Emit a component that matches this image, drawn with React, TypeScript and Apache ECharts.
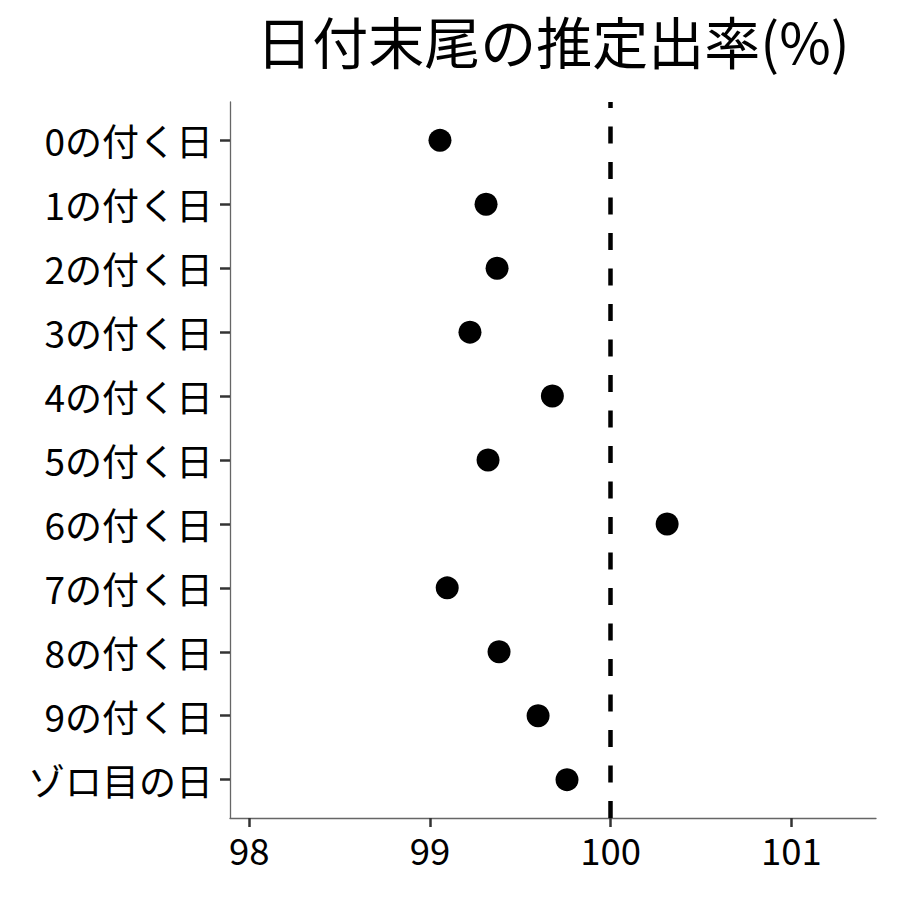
import React, { useEffect, useRef } from "react";
import * as echarts from "echarts";

const categories = [
  "0の付く日",
  "1の付く日",
  "2の付く日",
  "3の付く日",
  "4の付く日",
  "5の付く日",
  "6の付く日",
  "7の付く日",
  "8の付く日",
  "9の付く日",
  "ゾロ目の日",
];
const rates = [99.055, 99.31, 99.371, 99.221, 99.677, 99.321, 100.312, 99.095, 99.382, 99.598, 99.758];
const xTicks = [98, 99, 100, 101];
const refValue = 100;
const titleText = "日付末尾の推定出率(%)";

const FONT = "'Noto Sans CJK JP', 'Noto Sans', sans-serif";

export default function App() {
  const ref = useRef<HTMLDivElement>(null);
  useEffect(() => {
    if (!ref.current) return;
    const chart = echarts.init(ref.current, undefined, { renderer: "svg" });
    const yIdx = categories.map((_, i) => i);
    chart.setOption({
      animation: false,
      backgroundColor: "#ffffff",
      textStyle: { fontFamily: FONT },
      title: {
        text: titleText,
        left: 548,
        top: 6,
        textAlign: "center",
        textStyle: { fontFamily: FONT, fontSize: 56, fontWeight: "normal", color: "#000" },
      },
      grid: { left: 230, right: 24, top: 102, bottom: 82 },
      xAxis: {
        type: "value",
        min: 97.893,
        max: 101.468,
        splitLine: { show: false },
        axisLine: { show: true, onZero: false, lineStyle: { color: "#666", width: 1.3 } },
        axisTick: { show: true, customValues: xTicks, length: 9, lineStyle: { color: "#333", width: 2.5 } },
        axisLabel: {
          customValues: xTicks,
          margin: 13,
          fontSize: 36.5,
          color: "#000",
          fontFamily: FONT,
        },
      },
      yAxis: {
        type: "value",
        inverse: true,
        min: -0.6,
        max: 10.6,
        splitLine: { show: false },
        axisLine: { show: true, onZero: false, lineStyle: { color: "#666", width: 1.3 } },
        axisTick: { show: true, customValues: yIdx, length: 10, lineStyle: { color: "#333", width: 2.5 } },
        axisLabel: {
          customValues: yIdx,
          margin: 17,
          fontSize: 37,
          color: "#000",
          fontFamily: FONT,
          formatter: (v: number) => categories[Math.round(v)] ?? "",
        },
      },
      series: [
        {
          type: "scatter",
          data: categories.map((_, i) => [rates[i], i]),
          symbol: "circle",
          symbolSize: 23,
          itemStyle: { color: "#000", opacity: 1 },
          markLine: {
            silent: true,
            symbol: ["none", "none"],
            label: { show: false },
            lineStyle: { color: "#000", width: 4.5, type: [17, 18.5], dashOffset: 11 },
            data: [{ xAxis: refValue }],
          },
        },
      ],
    });
    return () => chart.dispose();
  }, []);
  return (
    <div
      ref={ref}
      style={{ position: "fixed", left: 0, top: 0, width: 900, height: 900, background: "#fff" }}
    />
  );
}
